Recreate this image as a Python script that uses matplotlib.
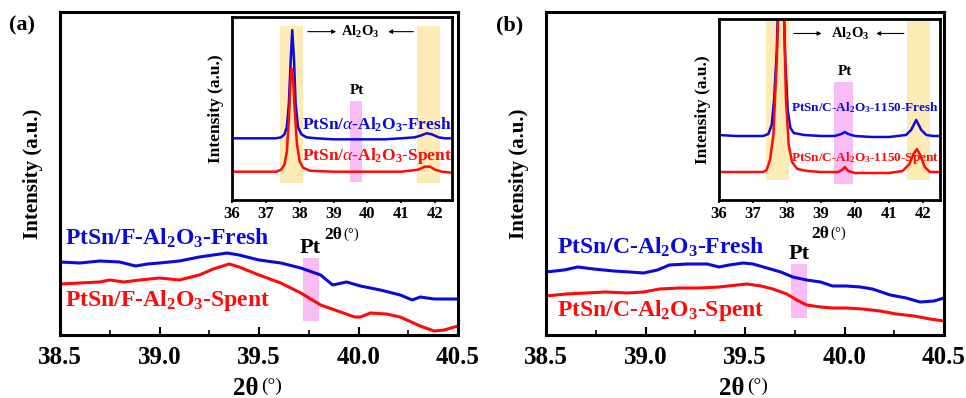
import matplotlib
matplotlib.use("Agg")
import matplotlib.pyplot as plt
from matplotlib.ticker import MultipleLocator

plt.rcParams['font.family'] = ['Liberation Serif', 'DejaVu Serif']
plt.rcParams['mathtext.fontset'] = 'custom'
plt.rcParams['mathtext.rm'] = 'Liberation Serif'
plt.rcParams['mathtext.bf'] = 'Liberation Serif:bold'
plt.rcParams['mathtext.it'] = 'Liberation Serif:italic'

BLUE = '#0a0adc'
RED = '#ff0a0a'
YELLOW = '#fdebb5'
PINK = '#f8bdf5'

# ---- main panel (a): F-Al2O3, 38.5-40.5 ----
a_fresh_x = [38.5, 38.60, 38.70, 38.80, 38.88, 38.94, 39.0, 39.10, 39.20, 39.27, 39.34, 39.40, 39.50,
             39.61, 39.71, 39.81, 39.87, 39.94, 40.01, 40.11, 40.21, 40.27, 40.31, 40.38, 40.5]
a_fresh_y = [73, 72, 74, 73, 69, 71, 72, 74, 78, 80, 82, 80, 75,
             72, 67, 60, 50, 53, 49, 45, 40, 35, 38, 36, 36]
a_spent_x = [38.5, 38.60, 38.70, 38.75, 38.82, 38.90, 39.0, 39.10, 39.20, 39.27, 39.35, 39.40, 39.50,
             39.61, 39.71, 39.81, 39.91, 39.98, 40.01, 40.06, 40.14, 40.21, 40.31, 40.38, 40.43, 40.5]
a_spent_y = [51, 52, 53, 55, 53, 55, 57, 55, 60, 66, 71, 68, 60,
             52, 42, 30, 23, 18, 18, 22, 21, 18, 9, 4, 5, 9]

# ---- main panel (b): C-Al2O3 ----
b_fresh_x = [38.50, 38.59, 38.66, 38.74, 38.84, 38.92, 38.99, 39.06, 39.12, 39.21, 39.31, 39.37, 39.42,
             39.49, 39.54, 39.61, 39.68, 39.74, 39.81, 39.88, 39.94, 40.01, 40.08, 40.14, 40.23, 40.31,
             40.38, 40.45, 40.5]
b_fresh_y = [63, 65, 68, 66, 64, 63, 62, 65, 70, 71, 71, 68, 70,
             72, 71, 67, 63, 58, 55, 53, 49, 49, 48, 46, 40, 37,
             33, 34, 37]
b_spent_x = [38.50, 38.60, 38.70, 38.80, 38.91, 38.99, 39.07, 39.17, 39.27, 39.37, 39.46, 39.51, 39.58,
             39.64, 39.71, 39.76, 39.81, 39.88, 39.94, 40.01, 40.09, 40.18, 40.26, 40.35, 40.43, 40.5]
b_spent_y = [39, 41, 42, 43, 42, 43, 46, 47, 47, 48, 50, 51, 49,
             46, 41, 35, 30, 28, 27, 27, 26, 24, 21, 19, 16, 14]

# ---- inset (a): alpha-Al2O3, 36-42.5 ----
ia_fresh_x = [36.0, 36.5, 37.0, 37.3, 37.45, 37.55, 37.62, 37.68, 37.73, 37.78, 37.83, 37.88, 37.95,
              38.05, 38.2, 38.5, 39.0, 39.5, 40.0, 40.5, 41.0, 41.4, 41.6, 41.75, 41.9, 42.1, 42.3, 42.5]
ia_fresh_y = [61, 61, 61, 61, 62, 65, 72, 95, 135, 168, 140, 95, 72,
              65, 62, 61, 60, 60, 60, 60, 61, 62, 64, 66, 65, 62, 61, 61]
ia_spent_x = [36.0, 36.5, 37.0, 37.3, 37.45, 37.55, 37.62, 37.68, 37.73, 37.76, 37.80, 37.85, 37.92,
              38.0, 38.1, 38.3, 39.0, 40.0, 41.0, 41.5, 41.7, 41.85, 42.0, 42.2, 42.5]
ia_spent_y = [28, 28, 28, 28, 30, 35, 48, 80, 118, 130, 122, 90, 55,
              38, 32, 29, 28, 28, 28, 30, 33, 33, 30, 28, 27]

# ---- inset (b): C-Al2O3-1150 ----
ib_fresh_x = [36.0, 36.5, 37.0, 37.3, 37.45, 37.55, 37.62, 37.70, 37.78, 37.88, 37.95, 38.02, 38.1,
              38.2, 38.5, 39.0, 39.4, 39.6, 39.7, 39.8, 40.0, 40.5, 41.0, 41.5, 41.65, 41.8, 41.95,
              42.1, 42.3, 42.5]
ib_fresh_y = [65, 64, 64, 64, 66, 75, 100, 150, 250, 230, 140, 90, 72,
              67, 65, 64, 64, 66, 68, 66, 64, 63, 63, 65, 70, 80, 70,
              65, 64, 64]
ib_spent_x = [36.0, 37.3, 37.4, 37.5, 37.6, 37.7, 37.8, 37.9, 37.97, 38.05, 38.15, 38.3, 38.6,
              39.0, 39.5, 39.62, 39.7, 39.8, 40.0, 40.5, 41.0, 41.4, 41.6, 41.72, 41.82, 41.92,
              42.05, 42.2, 42.5]
ib_spent_y = [28, 28, 30, 40, 65, 140, 250, 200, 100, 55, 38, 31, 29,
              28, 28, 30, 33, 29, 27, 27, 27, 29, 36, 46, 51, 45,
              33, 28, 28]

W, H = 966, 398
fig = plt.figure(figsize=(W / 100, H / 100), dpi=100)


def fx(px):
    return px / W


def fy(py):
    return 1 - py / H


def style_main(ax):
    ax.set_xlim(38.5, 40.5)
    ax.set_ylim(0, 323)
    ax.set_yticks([])
    ax.xaxis.set_major_locator(MultipleLocator(0.5))
    ax.xaxis.set_minor_locator(MultipleLocator(0.25))
    ax.xaxis.set_major_formatter(matplotlib.ticker.FormatStrFormatter('%.1f'))
    ax.tick_params(axis='x', which='major', direction='in', length=6, width=1.5,
                   labelsize=18, pad=8)
    ax.tick_params(axis='x', which='minor', direction='in', length=3.5, width=1.2)
    for lab in ax.get_xticklabels():
        lab.set_fontweight('bold')
    for s in ax.spines.values():
        s.set_linewidth(2.2)
    ax.text(0.5, -0.165, '2θ', transform=ax.transAxes, ha='right', va='center',
            fontsize=18, fontweight='bold')
    ax.text(0.505, -0.16, '(°)', transform=ax.transAxes, ha='left', va='center', fontsize=14)
    ax.set_ylabel('Intensity (a.u.)', fontsize=15, fontweight='bold', labelpad=12)


def style_inset(ax):
    ax.set_xlim(36, 42.5)
    ax.set_ylim(0, 181)
    ax.set_yticks([])
    ax.set_xticks([36, 37, 38, 39, 40, 41, 42])
    ax.tick_params(axis='x', direction='out', length=2.5, width=1.2, labelsize=12, pad=2)
    for lab in ax.get_xticklabels():
        lab.set_fontweight('bold')
    for s in ax.spines.values():
        s.set_linewidth(2.0)
    ax.text(0.5, -0.19, '2θ', transform=ax.transAxes, ha='right', va='center',
            fontsize=12.5, fontweight='bold')
    ax.text(0.505, -0.185, '(°)', transform=ax.transAxes, ha='left', va='center', fontsize=10.5)
    ax.set_ylabel('Intensity (a.u.)', fontsize=12.5, fontweight='bold', labelpad=6)


def al2o3_label(ax, xl0, xl1, xc, xr0, xr1):
    ax.annotate('', xy=(xl1, 0.92), xytext=(xl0, 0.92),
                xycoords=('data', 'axes fraction'),
                arrowprops=dict(arrowstyle='-|>', lw=0.8, color='black', mutation_scale=6))
    ax.annotate('', xy=(xr1, 0.92), xytext=(xr0, 0.92),
                xycoords=('data', 'axes fraction'),
                arrowprops=dict(arrowstyle='-|>', lw=0.8, color='black', mutation_scale=6))
    ax.text(xc, 0.92, r'Al$_\mathbf{2}$O$_\mathbf{3}$', transform=ax.get_xaxis_transform(),
            ha='center', va='center', fontsize=10.5, fontweight='bold')


# ================= panel (a) =================
ax_a = fig.add_axes([fx(60), fy(335), fx(398), 323 / H])
style_main(ax_a)
ax_a.axvspan(39.72, 39.80, ymin=0.043, ymax=0.238, color=PINK, lw=0)
ax_a.plot(a_fresh_x, a_fresh_y, color=BLUE, lw=2.2)
ax_a.plot(a_spent_x, a_spent_y, color=RED, lw=2.2)
ax_a.text(0.013, 0.30, r'PtSn/F-Al$_\mathbf{2}$O$_\mathbf{3}$-Fresh', transform=ax_a.transAxes,
          color=BLUE, fontsize=17, fontweight='bold', va='center')
ax_a.text(0.013, 0.108, r'PtSn/F-Al$_\mathbf{2}$O$_\mathbf{3}$-Spent', transform=ax_a.transAxes,
          color=RED, fontsize=17, fontweight='bold', va='center')
ax_a.text(39.756, 0.27, 'Pt', transform=ax_a.get_xaxis_transform(), ha='center', va='center',
          fontsize=16, fontweight='bold')
fig.text(fx(22), fy(25), '(a)', fontsize=16, fontweight='bold', ha='center', va='center')

in_a = fig.add_axes([fx(232), fy(200), fx(220), 183 / H])
style_inset(in_a)
in_a.axvspan(37.43, 38.1, ymin=0.094, ymax=0.95, color=YELLOW, lw=0)
in_a.axvspan(41.47, 42.14, ymin=0.094, ymax=0.95, color=YELLOW, lw=0)
in_a.axvspan(39.5, 39.83, ymin=0.10, ymax=0.54, color=PINK, lw=0)
in_a.plot(ia_fresh_x, ia_fresh_y, color=BLUE, lw=1.8)
in_a.plot(ia_spent_x, ia_spent_y, color=RED, lw=1.8)
in_a.text(38.08, 0.41, r'PtSn/$\alpha$-Al$_\mathbf{2}$O$_\mathbf{3}$-Fresh',
          transform=in_a.get_xaxis_transform(), color=BLUE, fontsize=12.5, fontweight='bold',
          va='center')
in_a.text(38.08, 0.24, r'PtSn/$\alpha$-Al$_\mathbf{2}$O$_\mathbf{3}$-Spent',
          transform=in_a.get_xaxis_transform(), color=RED, fontsize=12.5, fontweight='bold',
          va='center')
in_a.text(39.68, 0.60, 'Pt', transform=in_a.get_xaxis_transform(), ha='center', va='center',
          fontsize=11, fontweight='bold')
al2o3_label(in_a, 38.16, 39.16, 39.8, 41.44, 40.53)

# ================= panel (b) =================
ax_b = fig.add_axes([fx(546), fy(335), fx(398), 323 / H])
style_main(ax_b)
ax_b.axvspan(39.73, 39.81, ymin=0.053, ymax=0.22, color=PINK, lw=0)
ax_b.plot(b_fresh_x, b_fresh_y, color=BLUE, lw=2.2)
ax_b.plot(b_spent_x, b_spent_y, color=RED, lw=2.2)
ax_b.text(0.028, 0.272, r'PtSn/C-Al$_\mathbf{2}$O$_\mathbf{3}$-Fresh', transform=ax_b.transAxes,
          color=BLUE, fontsize=17, fontweight='bold', va='center')
ax_b.text(0.028, 0.077, r'PtSn/C-Al$_\mathbf{2}$O$_\mathbf{3}$-Spent', transform=ax_b.transAxes,
          color=RED, fontsize=17, fontweight='bold', va='center')
ax_b.text(39.77, 0.25, 'Pt', transform=ax_b.get_xaxis_transform(), ha='center', va='center',
          fontsize=16, fontweight='bold')
fig.text(fx(510), fy(25), '(b)', fontsize=16, fontweight='bold', ha='center', va='center')

in_b = fig.add_axes([fx(719), fy(200), fx(221), 181 / H])
style_inset(in_b)
in_b.axvspan(37.37, 38.06, ymin=0.11, ymax=0.99, color=YELLOW, lw=0)
in_b.axvspan(41.52, 42.2, ymin=0.11, ymax=0.99, color=YELLOW, lw=0)
in_b.axvspan(39.37, 39.94, ymin=0.09, ymax=0.65, color=PINK, lw=0)
in_b.plot(ib_fresh_x, ib_fresh_y, color=BLUE, lw=1.8)
in_b.plot(ib_spent_x, ib_spent_y, color=RED, lw=1.8)
in_b.text(38.12, 0.51, r'PtSn/C-Al$_\mathbf{2}$O$_\mathbf{3}$-1150-Fresh',
          transform=in_b.get_xaxis_transform(), color=BLUE, fontsize=9.5, fontweight='bold',
          va='center')
in_b.text(38.12, 0.23, r'PtSn/C-Al$_\mathbf{2}$O$_\mathbf{3}$-1150-Spent',
          transform=in_b.get_xaxis_transform(), color=RED, fontsize=9.5, fontweight='bold',
          va='center')
in_b.text(39.7, 0.71, 'Pt', transform=in_b.get_xaxis_transform(), ha='center', va='center',
          fontsize=11, fontweight='bold')
al2o3_label(in_b, 38.12, 39.1, 39.85, 41.52, 40.54)

fig.savefig('out.png', dpi=100)
